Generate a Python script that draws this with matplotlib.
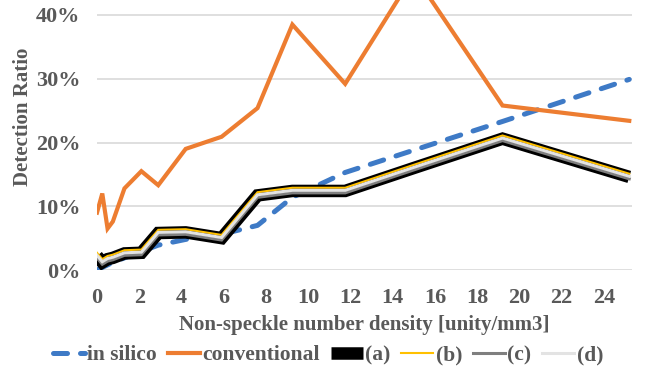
import matplotlib
matplotlib.use("Agg")
import matplotlib.pyplot as plt
from matplotlib.ticker import FuncFormatter

# density values shared by every series [unity/mm3]
density = [0, 0.25, 0.5, 0.75, 1.3, 2.1, 2.9, 4.2, 5.9, 7.6, 9.25, 11.75, 15.0, 19.2, 25.2]

# detection ratio in percent
in_silico = [0.0, 0.4, 0.8, 1.2, 1.9, 2.9, 3.9, 4.8, 5.6, 7.0, 11.4, 15.3, 18.8, 23.3, 29.9]
conventional = [9.0, 12.0, 6.5, 7.6, 12.8, 15.5, 13.3, 19.0, 20.9, 25.4, 38.5, 29.2, 46.4, 25.8, 23.4]
series_a = [2.2, 1.2, 1.7, 1.9, 2.6, 2.7, 5.8, 5.9, 5.0, 11.7, 12.4, 12.4, 16.0, 20.6, 14.6]
series_b = [2.7, 1.7, 2.2, 2.4, 3.1, 3.2, 6.3, 6.4, 5.5, 12.2, 12.9, 12.9, 16.5, 21.1, 15.1]
series_c = [1.9, 0.9, 1.4, 1.6, 2.3, 2.4, 5.5, 5.6, 4.7, 11.4, 12.1, 12.1, 15.7, 20.3, 14.3]
series_d = [2.3, 1.3, 1.8, 2.0, 2.7, 2.8, 5.9, 6.0, 5.1, 11.8, 12.5, 12.5, 16.1, 20.7, 14.7]

x_ticks = list(range(0, 25, 2))
y_ticks = [0, 10, 20, 30, 40]

TEXT = '#595959'
BLUE = '#3E7AC6'
ORANGE = '#ED7D31'
YELLOW = '#FFC000'
GREY = '#7F7F7F'
LIGHT = '#E3E3E3'

plt.rcParams['font.family'] = ['Liberation Serif', 'DejaVu Serif']
plt.rcParams['font.weight'] = 'bold'
plt.rcParams['axes.labelweight'] = 'bold'

fig = plt.figure(figsize=(6.46, 3.69), dpi=100)
ax = fig.add_axes([97 / 646, 99 / 369, 535 / 646, 318.75 / 369])

ax.plot(density, in_silico, color=BLUE, lw=3.6, dashes=(2.8, 2.6),
        dash_capstyle='round', label='in silico', zorder=3)
ax.plot(density, conventional, color=ORANGE, lw=3.0, solid_joinstyle='miter',
        label='conventional', zorder=4)
ax.plot(density, series_a, color='black', lw=9.0, solid_capstyle='butt',
        solid_joinstyle='miter', label='(a)', zorder=5)
ax.plot(density, series_b, color=YELLOW, lw=1.5, solid_joinstyle='miter', label='(b)', zorder=6)
ax.plot(density, series_c, color=GREY, lw=2.2, solid_joinstyle='miter', label='(c)', zorder=7)
ax.plot(density, series_d, color=LIGHT, lw=2.2, solid_joinstyle='miter', label='(d)', zorder=8)

ax.set_xlim(0, 25.33)
ax.set_ylim(0, 50)
ax.set_xticks(x_ticks)
ax.set_yticks(y_ticks)
ax.yaxis.set_major_formatter(FuncFormatter(lambda v, p: f'{v:.0f}%'))
ax.grid(axis='y', color='#D9D9D9', lw=1.2, zorder=0)
ax.set_axisbelow(True)
for s in ax.spines.values():
    s.set_visible(False)
ax.tick_params(length=0, labelsize=16, labelcolor=TEXT)
ax.tick_params(axis='y', pad=12)
ax.tick_params(axis='x', pad=13)

ax.set_xlabel('Non-speckle number density [unity/mm3]', fontsize=15,
              color=TEXT, fontweight='bold', labelpad=5)
fig.text(23 / 646, 1 - 117 / 369, 'Detection Ratio', rotation=90, fontsize=15,
         color=TEXT, ha='center', va='center')

handles, labels = ax.get_legend_handles_labels()
fig.legend(handles, labels, loc='center', bbox_to_anchor=(328 / 646, 1 - 355 / 369),
           ncol=6, frameon=False, fontsize=15.5, labelcolor=TEXT,
           handlelength=1.5, handletextpad=0.1, columnspacing=0.5)

fig.savefig('out.png', dpi=100)
